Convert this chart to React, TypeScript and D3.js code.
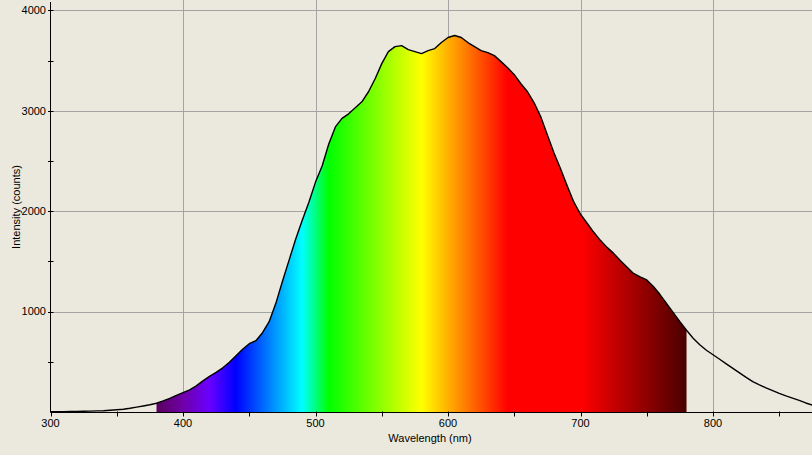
import React from 'react';
import * as d3 from 'd3';

const wavelengths = d3.range(300, 876, 5);
const intensities = [
  2, 3, 4, 5, 6, 7, 9, 11, 13, 17, // 300-345
  22, 28, 37, 48, 60, 72, 87, 110, 135, 165, // 350-395
  192, 220, 260, 310, 355, 395, 440, 495, 560, 625, // 400-445
  680, 710, 790, 900, 1080, 1300, 1510, 1720, 1910, 2090, // 450-495
  2290, 2450, 2670, 2840, 2925, 2970, 3030, 3090, 3190, 3320, // 500-545
  3470, 3590, 3640, 3650, 3610, 3590, 3570, 3600, 3620, 3680, // 550-595
  3730, 3750, 3730, 3680, 3640, 3600, 3580, 3550, 3490, 3430, // 600-645
  3360, 3270, 3190, 3080, 2940, 2760, 2580, 2420, 2250, 2090, // 650-695
  1970, 1880, 1790, 1710, 1640, 1580, 1510, 1445, 1380, 1345, // 700-745
  1315, 1250, 1170, 1080, 990, 900, 815, 735, 670, 615, // 750-795
  570, 525, 480, 435, 390, 345, 302, 270, 240, 212, // 800-845
  185, 160, 138, 115, 90, 68, // 850-875
];

// visible band colour stops
const specNm = [380, 400, 420, 440, 490, 510, 580, 645, 700, 780];
const specColors = ['#5a005e', '#7000a8', '#6a00ff', '#0000ff', '#00ffff', '#00ff00', '#ffff00', '#ff0000', '#ff0000', '#4a0000'];

const xTicks = [300, 400, 500, 600, 700, 800];
const xMinor = [350, 450, 550, 650, 750, 850];
const yTicks = [1000, 2000, 3000, 4000];
const yMinor = [500, 1500, 2500, 3500];

const W = 812;
const H = 455;
const font = '"Liberation Sans", Arial, sans-serif';

export default function App() {
  const x = d3.scaleLinear().domain([300, 875]).range([50.5, 812.4]);
  const y = d3.scaleLinear().domain([0, 4100]).range([412, 0.4]);

  const pts = wavelengths.map((w, i) => ({ w, v: intensities[i] }));
  const visible = pts.filter(d => d.w >= 380 && d.w <= 780);

  const line = d3.line<{ w: number; v: number }>().x(d => x(d.w)).y(d => y(d.v));
  const area = d3.area<{ w: number; v: number }>().x(d => x(d.w)).y0(y(0)).y1(d => y(d.v));

  const x0 = x(380);
  const x1 = x(780);
  const axisX = 50.5;
  const axisY = 412.5;

  return (
    <svg width={W} height={H} style={{ position: 'absolute', left: 0, top: 0, background: '#ebe9dd' }}>
      <defs>
        <linearGradient id="spec" gradientUnits="userSpaceOnUse" x1={x0} x2={x1} y1={0} y2={0}>
          {specNm.map((n, i) => (
            <stop key={n} offset={(n - 380) / 400} stopColor={specColors[i]} />
          ))}
        </linearGradient>
        <clipPath id="plot">
          <rect x={axisX} y={0} width={W - axisX} height={axisY} />
        </clipPath>
      </defs>
      <rect width={W} height={H} fill="#ebe9dd" />

      {/* grid */}
      {xTicks.filter(t => t > 300).map(t => (
        <line key={'gx' + t} x1={Math.round(x(t)) + 0.5} x2={Math.round(x(t)) + 0.5} y1={0} y2={axisY} stroke="#a4a4a4" />
      ))}
      {yTicks.map(t => (
        <line key={'gy' + t} x1={axisX} x2={W} y1={Math.round(y(t)) + 0.5} y2={Math.round(y(t)) + 0.5} stroke="#a4a4a4" />
      ))}

      <g clipPath="url(#plot)">
        <path d={area(visible) || ''} fill="url(#spec)" />
        <path d={line(pts) || ''} fill="none" stroke="#000" strokeWidth={1.4} strokeLinejoin="round" />
      </g>

      {/* axes */}
      <line x1={axisX} x2={axisX} y1={2} y2={axisY} stroke="#000" />
      <line x1={axisX} x2={W} y1={axisY} y2={axisY} stroke="#000" />
      {yTicks.concat(yMinor).map(t => (
        <line key={'ty' + t} x1={axisX - 2.5} x2={axisX + 3} y1={Math.round(y(t)) + 0.5} y2={Math.round(y(t)) + 0.5} stroke="#000" />
      ))}
      {xTicks.concat(xMinor).map(t => (
        <line key={'tx' + t} x1={Math.round(x(t)) + 0.5} x2={Math.round(x(t)) + 0.5} y1={axisY - 1} y2={axisY + 4} stroke="#000" />
      ))}

      {/* labels */}
      <g fontFamily={font} fontSize={11} fill="#000">
        {yTicks.map(t => (
          <text key={'ly' + t} x={46} y={y(t)} dy="0.35em" textAnchor="end">{t}</text>
        ))}
        {xTicks.map(t => (
          <text key={'lx' + t} x={x(t)} y={427} textAnchor="middle">{t}</text>
        ))}
        <text x={430} y={442} textAnchor="middle">Wavelength (nm)</text>
        <text transform={`translate(20,207) rotate(-90)`} textAnchor="middle">Intensity (counts)</text>
      </g>
    </svg>
  );
}
